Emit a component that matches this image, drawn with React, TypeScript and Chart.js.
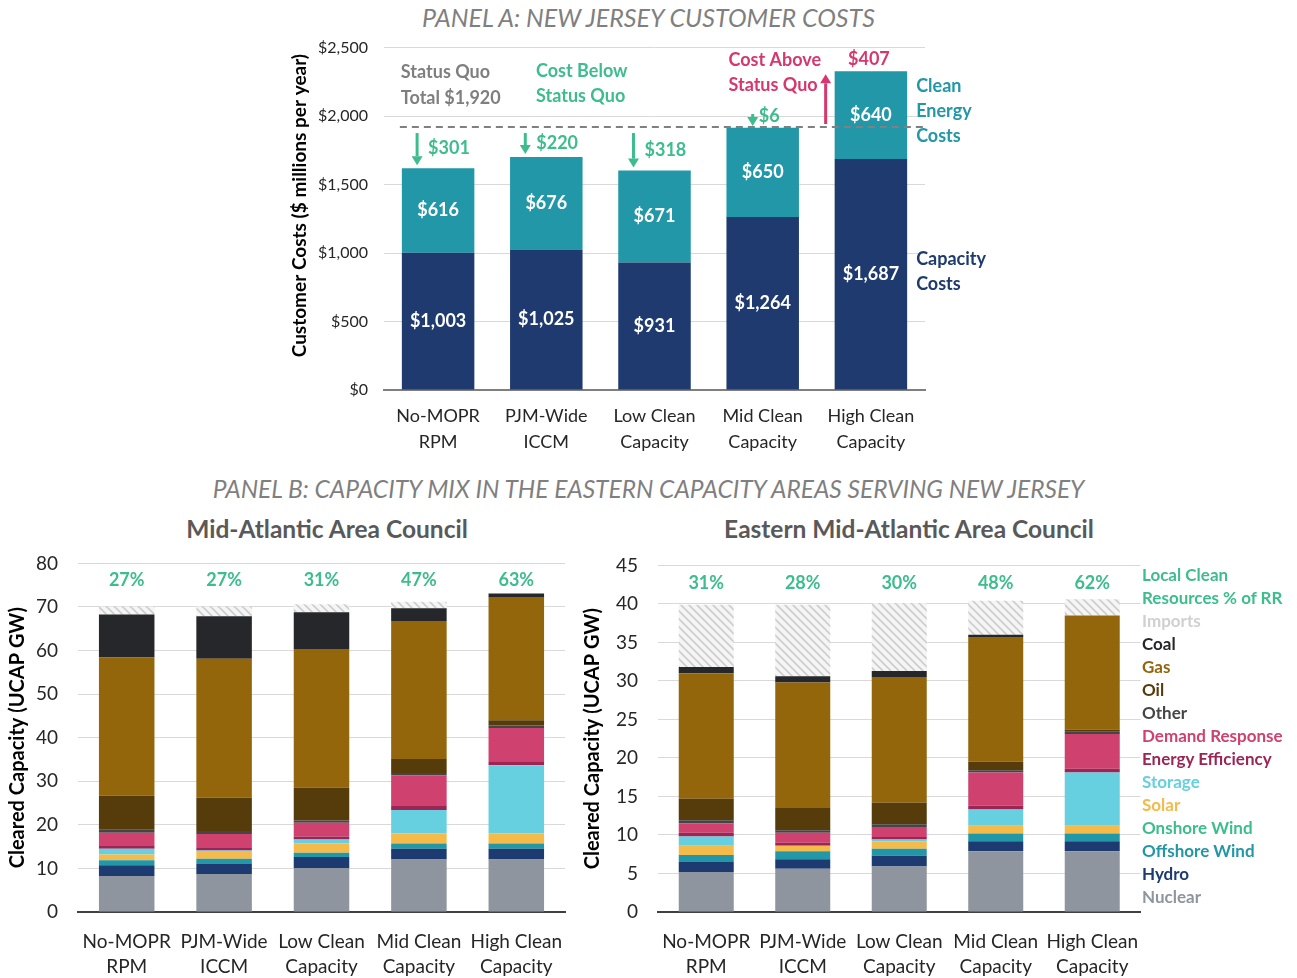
import React, { useEffect, useRef } from "react";
import { Chart, registerables } from "chart.js";
Chart.register(...registerables);

const FONT = "Lato, 'Open Sans', sans-serif";
const GREEN = "#3dbd8d";
const PINK = "#d6376e";
const GRAY_TXT = "#7f7f7f";
const NAVY = "#1e3a6e";
const TEAL = "#2297a8";

// ---------- Panel A data ----------
const costCategories = [
  ["No-MOPR", "RPM"],
  ["PJM-Wide", "ICCM"],
  ["Low Clean", "Capacity"],
  ["Mid Clean", "Capacity"],
  ["High Clean", "Capacity"],
];
const capacityCosts = [1003, 1025, 931, 1264, 1687];
const cleanEnergyCosts = [616, 676, 671, 650, 640];
const statusQuoTotal = 1920;
const costVsStatusQuo = [-301, -220, -318, -6, 407];
const costTicks = [0, 500, 1000, 1500, 2000, 2500];

// ---------- Panel B data ----------
const mixCategories = costCategories;
const resourceNames = [
  "Nuclear", "Hydro", "Offshore Wind", "Onshore Wind", "Solar", "Storage",
  "Energy Efficiency", "Demand Response", "Other", "Oil", "Gas", "Coal", "Imports",
];
const resourceColors = [
  "#8e959e", "#1d3b70", "#2297a8", "#3dbd8d", "#f4ba4a", "#66cfe0",
  "#9c2555", "#cf416f", "#454545", "#553c0a", "#94660b", "#26272b", "#d9d9d9",
];

// MAAC (GW)
const maacNuclear = [8.25, 8.7, 10.1, 12.07, 12.07];
const maacHydro = [2.5, 2.45, 2.5, 2.43, 2.43];
const maacOffshore = [1.1, 1.05, 1.0, 1.2, 1.2];
const maacOnshore = [0, 0, 0, 0, 0];
const maacSolar = [1.35, 1.8, 2.1, 2.3, 2.3];
const maacStorage = [1.3, 0.1, 0.95, 5.4, 15.7];
const maacEE = [0.8, 0.75, 0.65, 0.9, 0.9];
const maacDR = [2.9, 3.05, 3.2, 7.0, 7.6];
const maacOther = [0.7, 0.7, 0.5, 0.6, 0.6];
const maacOil = [7.8, 7.6, 7.6, 3.2, 1.2];
const maacGas = [31.7, 31.9, 31.75, 31.7, 28.3];
const maacCoal = [9.9, 9.8, 8.45, 2.9, 0.8];
const maacImports = [1.8, 2.2, 1.8, 1.5, 0];
const maacCleanPct = [27, 27, 31, 47, 63];
const maacTicks = [0, 10, 20, 30, 40, 50, 60, 70, 80];

// EMAAC (GW)
const emaacNuclear = [5.2, 5.6, 5.9, 7.9, 7.9];
const emaacHydro = [1.3, 1.25, 1.4, 1.3, 1.3];
const emaacOffshore = [0.9, 1.05, 0.9, 1.0, 1.0];
const emaacOnshore = [0, 0, 0, 0, 0];
const emaacSolar = [1.2, 0.7, 1.0, 1.0, 1.0];
const emaacStorage = [1.2, 0, 0.2, 2.1, 6.9];
const emaacEE = [0.5, 0.4, 0.35, 0.5, 0.5];
const emaacDR = [1.2, 1.3, 1.3, 4.3, 4.5];
const emaacOther = [0.4, 0.3, 0.35, 0.3, 0.3];
const emaacOil = [2.8, 2.9, 2.8, 1.1, 0.3];
const emaacGas = [16.3, 16.3, 16.3, 16.2, 14.8];
const emaacCoal = [0.8, 0.8, 0.8, 0.3, 0];
const emaacImports = [8.1, 9.3, 8.8, 4.4, 2.1];
const emaacCleanPct = [31, 28, 30, 48, 62];
const emaacTicks = [0, 5, 10, 15, 20, 25, 30, 35, 40, 45];

const maacSeries = [maacNuclear, maacHydro, maacOffshore, maacOnshore, maacSolar, maacStorage, maacEE, maacDR, maacOther, maacOil, maacGas, maacCoal, maacImports];
const emaacSeries = [emaacNuclear, emaacHydro, emaacOffshore, emaacOnshore, emaacSolar, emaacStorage, emaacEE, emaacDR, emaacOther, emaacOil, emaacGas, emaacCoal, emaacImports];

const fmt = (n: number) => "$" + Math.abs(n).toLocaleString("en-US");

function makeHatch(): CanvasPattern | string {
  const c = document.createElement("canvas");
  c.width = 8;
  c.height = 8;
  const g = c.getContext("2d");
  if (!g) return "#e6e6e6";
  g.fillStyle = "#f5f5f5";
  g.fillRect(0, 0, 8, 8);
  g.strokeStyle = "#cdcdcd";
  g.lineWidth = 1.6;
  g.beginPath();
  g.moveTo(0, 0); g.lineTo(8, 8);
  g.moveTo(-4, 4); g.lineTo(4, 12);
  g.moveTo(4, -4); g.lineTo(12, 4);
  g.stroke();
  return g.createPattern(c, "repeat") || "#e6e6e6";
}

function drawArrow(ctx: CanvasRenderingContext2D, x: number, y1: number, y2: number, color: string) {
  const dir = y2 > y1 ? 1 : -1;
  const head = 9;
  ctx.strokeStyle = color;
  ctx.fillStyle = color;
  ctx.lineWidth = 3;
  ctx.beginPath();
  ctx.moveTo(x, y1);
  ctx.lineTo(x, y2 - dir * head);
  ctx.stroke();
  ctx.beginPath();
  ctx.moveTo(x - 5.5, y2 - dir * head);
  ctx.lineTo(x + 5.5, y2 - dir * head);
  ctx.lineTo(x, y2);
  ctx.closePath();
  ctx.fill();
}

const annotA = {
  id: "annotA",
  afterDatasetsDraw(chart: any) {
    const { ctx, chartArea, scales } = chart;
    const x = scales.x, y = scales.y;
    const m0 = chart.getDatasetMeta(0), m1 = chart.getDatasetMeta(1);
    ctx.save();
    // axis title (drawn manually for placement)
    ctx.save();
    ctx.translate(20, chartArea.top + 158);
    ctx.rotate(-Math.PI / 2);
    ctx.font = `bold 19px ${FONT}`;
    ctx.fillStyle = "#000";
    ctx.textAlign = "center";
    ctx.textBaseline = "middle";
    ctx.fillText("Customer Costs ($ millions per year)", 0, 0);
    ctx.restore();
    // in-bar values
    ctx.font = `bold 18px ${FONT}`;
    ctx.fillStyle = "#fff";
    ctx.textAlign = "center";
    ctx.textBaseline = "middle";
    m0.data.forEach((b: any, i: number) => {
      ctx.fillText(fmt(capacityCosts[i]), b.x, (b.y + b.base) / 2);
    });
    m1.data.forEach((b: any, i: number) => {
      ctx.fillText(fmt(cleanEnergyCosts[i]), b.x, (b.y + b.base) / 2);
    });
    // status quo dashed line
    const lineY = y.getPixelForValue(statusQuoTotal);
    const b0 = m0.data[0];
    const halfW = b0.width / 2;
    ctx.strokeStyle = "#808080";
    ctx.lineWidth = 2;
    ctx.setLineDash([7, 5]);
    ctx.beginPath();
    ctx.moveTo(b0.x - halfW - 2, lineY);
    ctx.lineTo(chartArea.right, lineY);
    ctx.stroke();
    ctx.setLineDash([]);
    // differences
    costVsStatusQuo.forEach((d, i) => {
      const cx = x.getPixelForValue(i);
      const topY = y.getPixelForValue(capacityCosts[i] + cleanEnergyCosts[i]);
      ctx.font = `bold 18px ${FONT}`;
      ctx.textBaseline = "middle";
      if (d < 0) {
        if (Math.abs(d) > 30) {
          const ax = cx - 21;
          drawArrow(ctx, ax, lineY + 6, topY - 3, GREEN);
          ctx.fillStyle = GREEN;
          ctx.textAlign = "left";
          ctx.fillText(fmt(d), ax + 11, (lineY + topY) / 2 + 1);
        } else {
          const ax = cx - 10;
          drawArrow(ctx, ax, lineY - 13, lineY - 1, GREEN);
          ctx.fillStyle = GREEN;
          ctx.textAlign = "left";
          ctx.fillText(fmt(d), ax + 6, lineY - 11);
        }
      } else {
        const bl = cx - halfW;
        drawArrow(ctx, bl - 9, lineY - 3, topY + 3, PINK);
        ctx.fillStyle = PINK;
        ctx.textAlign = "center";
        ctx.fillText(fmt(d), cx - 2, topY - 12);
      }
    });
    // text blocks
    ctx.textAlign = "left";
    ctx.font = `bold 18px ${FONT}`;
    const t = chartArea.top;
    const bx = (i: number) => x.getPixelForValue(i) - halfW;
    ctx.fillStyle = GRAY_TXT;
    ctx.fillText("Status Quo", bx(0) - 1, t + 25);
    ctx.fillText(`Total ${fmt(statusQuoTotal)}`, bx(0) - 1, t + 51);
    ctx.fillStyle = GREEN;
    ctx.fillText("Cost Below", bx(1) + 26, t + 24);
    ctx.fillText("Status Quo", bx(1) + 26, t + 49);
    ctx.fillStyle = PINK;
    ctx.fillText("Cost Above", bx(3) + 2, t + 13);
    ctx.fillText("Status Quo", bx(3) + 2, t + 38);
    // right side labels
    const last = m0.data.length - 1;
    const rx = m0.data[last].x + halfW + 9;
    const cleanMid = (m1.data[last].y + m1.data[last].base) / 2;
    const capMid = (m0.data[last].y + m0.data[last].base) / 2;
    ctx.fillStyle = TEAL;
    ["Clean", "Energy", "Costs"].forEach((s, k) => ctx.fillText(s, rx, cleanMid - 29 + k * 25));
    ctx.fillStyle = NAVY;
    ["Capacity", "Costs"].forEach((s, k) => ctx.fillText(s, rx, capMid - 15 + k * 25));
    ctx.restore();
  },
};

const pctPlugin = (pcts: number[], offset: number) => ({
  id: "pct",
  afterDatasetsDraw(chart: any) {
    const { ctx, chartArea, scales } = chart;
    ctx.save();
    ctx.font = `bold 18px ${FONT}`;
    ctx.fillStyle = GREEN;
    ctx.textAlign = "center";
    ctx.textBaseline = "middle";
    pcts.forEach((p, i) => ctx.fillText(p + "%", scales.x.getPixelForValue(i), chartArea.top + offset));
    ctx.restore();
  },
});

function makePanelA(): any {
  return {
    type: "bar",
    data: {
      labels: costCategories,
      datasets: [
        { label: "Capacity Costs", data: capacityCosts, backgroundColor: NAVY, barPercentage: 0.67, categoryPercentage: 1 },
        { label: "Clean Energy Costs", data: cleanEnergyCosts, backgroundColor: TEAL, barPercentage: 0.67, categoryPercentage: 1 },
      ],
    },
    options: {
      animation: false,
      responsive: false,
      maintainAspectRatio: false,
      layout: { padding: { left: 0, top: 0, right: 75, bottom: 0 } },
      plugins: { legend: { display: false }, tooltip: { enabled: false } },
      scales: {
        x: {
          stacked: true,
          grid: { display: false, drawTicks: false },
          border: { color: "#7f7f7f", width: 2 },
          ticks: { font: { family: FONT, size: 18, lineHeight: 1.4 }, color: "#262626", padding: 14, autoSkip: false, maxRotation: 0 },
          afterFit: (s: any) => { s.height = 70; },
        },
        y: {
          stacked: true,
          min: 0,
          max: 2500,
          afterBuildTicks: (s: any) => { s.ticks = costTicks.map((v) => ({ value: v })); },
          ticks: { callback: (v: any) => fmt(Number(v)), font: { family: FONT, size: 16 }, color: "#262626", padding: 16 },
          grid: { color: "#d9d9d9", drawTicks: false },
          border: { display: false },
          title: { display: false },
          afterFit: (s: any) => { s.width = 104; },
        },
      },
    },
    plugins: [annotA],
  };
}

function makeMix(series: number[][], pcts: number[], max: number, ticks: number[], yWidth: number, rightPad: number, titlePad: number, pctOffset: number): any {
  const hatch = makeHatch();
  return {
    type: "bar",
    data: {
      labels: mixCategories,
      datasets: resourceNames.map((name, i) => ({
        label: name,
        data: series[i],
        backgroundColor: name === "Imports" ? hatch : resourceColors[i],
        barPercentage: 0.57,
        categoryPercentage: 1,
        borderWidth: 0,
      })),
    },
    options: {
      animation: false,
      responsive: false,
      maintainAspectRatio: false,
      layout: { padding: { left: 0, top: 0, right: rightPad, bottom: 0 } },
      plugins: { legend: { display: false }, tooltip: { enabled: false } },
      scales: {
        x: {
          stacked: true,
          grid: { display: false, drawTicks: false },
          border: { color: "#404040", width: 2 },
          ticks: { font: { family: FONT, size: 19, lineHeight: 1.3 }, color: "#262626", padding: 18, autoSkip: false, maxRotation: 0 },
          afterFit: (s: any) => { s.height = 66; },
        },
        y: {
          stacked: true,
          min: 0,
          max,
          afterBuildTicks: (s: any) => { s.ticks = ticks.map((v) => ({ value: v })); },
          ticks: { font: { family: FONT, size: 19 }, color: "#262626", padding: 20 },
          grid: { color: "#d9d9d9", drawTicks: false },
          border: { display: false },
          title: { display: true, text: "Cleared Capacity (UCAP GW)", font: { family: FONT, size: 20, weight: "bold" }, color: "#000", padding: { top: titlePad, bottom: 0 } },
          afterFit: (s: any) => { s.width = yWidth; },
        },
      },
    },
    plugins: [pctPlugin(pcts, pctOffset)],
  };
}

function ChartCanvas(props: { left: number; top: number; width: number; height: number; make: () => any }) {
  const ref = useRef<HTMLCanvasElement>(null);
  useEffect(() => {
    if (!ref.current) return;
    const chart = new Chart(ref.current, props.make());
    return () => chart.destroy();
  }, []);
  const { left, top, width, height } = props;
  return <canvas ref={ref} width={width} height={height} style={{ position: "absolute", left, top, width, height }} />;
}

const legendItems = resourceNames.map((n, i) => ({ name: n, color: n === "Imports" ? "#d0d0d0" : resourceColors[i] })).reverse();

export default function App() {
  const textBase: React.CSSProperties = { position: "absolute", left: 0, width: 1297, textAlign: "center", whiteSpace: "nowrap" };
  return (
    <div style={{ position: "absolute", left: 0, top: 0, width: 1297, height: 978, background: "#fff", fontFamily: FONT, overflow: "hidden" }}>
      <div style={{ ...textBase, top: 3, lineHeight: "28px", fontSize: 25, fontStyle: "italic", color: "#7f7f7f" }}>PANEL A: NEW JERSEY CUSTOMER COSTS</div>
      <div style={{ ...textBase, top: 475, lineHeight: "28px", fontSize: 24.5, fontStyle: "italic", color: "#7f7f7f" }}>PANEL B: CAPACITY MIX IN THE EASTERN CAPACITY AREAS SERVING NEW JERSEY</div>
      <div style={{ ...textBase, left: 27, width: 600, top: 514, lineHeight: "30px", fontSize: 24.5, fontWeight: "bold", color: "#595959" }}>Mid-Atlantic Area Council</div>
      <div style={{ ...textBase, left: 609, width: 600, top: 514, lineHeight: "30px", fontSize: 24.5, fontWeight: "bold", color: "#595959" }}>Eastern Mid-Atlantic Area Council</div>
      <ChartCanvas left={280} top={22} width={720} height={438} make={makePanelA} />
      <ChartCanvas left={0} top={532} width={600} height={446}
        make={() => makeMix(maacSeries, maacCleanPct, 80, maacTicks, 78, 35, 6, 17)} />
      <ChartCanvas left={570} top={534} width={586} height={444}
        make={() => makeMix(emaacSeries, emaacCleanPct, 45, emaacTicks, 88, 0, 11, 18)} />
      <div style={{ position: "absolute", left: 1142, top: 563, fontSize: 17, fontWeight: "bold", lineHeight: "23px", whiteSpace: "nowrap" }}>
        <div style={{ color: GREEN }}>Local Clean</div>
        <div style={{ color: GREEN }}>Resources % of RR</div>
        {legendItems.map((it) => (
          <div key={it.name} style={{ color: it.color }}>{it.name}</div>
        ))}
      </div>
    </div>
  );
}
